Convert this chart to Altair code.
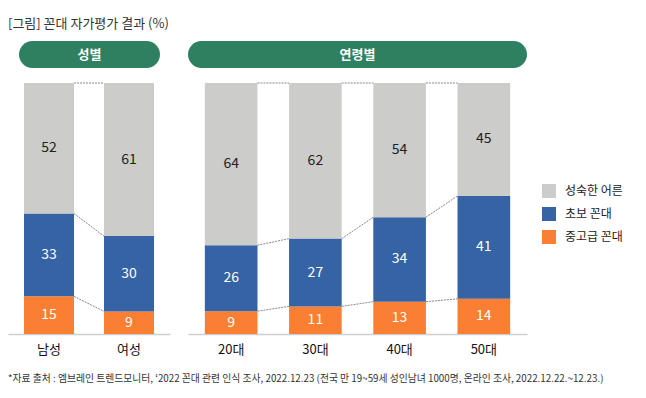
import altair as alt
import pandas as pd

# ---- data ----
gender_cats = ["남성", "여성"]
age_cats = ["20대", "30대", "40대", "50대"]
stack_series = ["중고급 꼰대", "초보 꼰대", "성숙한 어른"]  # bottom -> top
gender_senior = [15, 9]
gender_novice = [33, 30]
gender_mature = [52, 61]
age_senior = [9, 11, 13, 14]
age_novice = [26, 27, 34, 41]
age_mature = [64, 62, 54, 45]
panel_titles = ["성별", "연령별"]
legend_order = ["성숙한 어른", "초보 꼰대", "중고급 꼰대"]
palette = ["#cccccb", "#3663a3", "#fb7f33"]
title_text = "[그림] 꼰대 자가평가 결과 (%)"
footnote = "*자료 출처 : 엠브레인 트렌드모니터, ‘2022 꼰대 관련 인식 조사, 2022.12.23 (전국 만 19~59세 성인남녀 1000명, 온라인 조사, 2022.12.22.~12.23.)"

FONT = "Noto Sans CJK KR"


def build_frames(cats, senior, novice, mature):
    rows = []
    for i, c in enumerate(cats):
        vals = [senior[i], novice[i], mature[i]]
        total = sum(vals)
        start = 0.0
        for s, v in zip(stack_series, vals):
            share = v / total * 100
            rows.append({"cat": c, "series": s, "value": v, "start": start,
                         "end": start + share, "mid": start + share / 2})
            start += share
    df = pd.DataFrame(rows)
    links = []
    for i in range(len(cats) - 1):
        for s in stack_series:
            a = df[(df.cat == cats[i]) & (df.series == s)].iloc[0]
            b = df[(df.cat == cats[i + 1]) & (df.series == s)].iloc[0]
            links.append({"cat": cats[i], "cat2": cats[i + 1], "y1": a.end, "y2": b.end})
    return df, pd.DataFrame(links)


def panel(cats, senior, novice, mature, width, head, pill_x0, pill_x1, extra=None):
    df, links = build_frames(cats, senior, novice, mature)
    xscale = alt.Scale(domain=cats, paddingInner=0.375, paddingOuter=0.2)
    yscale = alt.Scale(domain=[0, 100])
    xaxis = alt.Axis(title=None, labelFontSize=13, labelColor="#111", labelFont=FONT,
                     ticks=False, domainColor="#cfcfcf", domainWidth=1.5, labelPadding=9,
                     labelAngle=0)
    bars = alt.Chart(df).mark_bar().encode(
        x=alt.X("cat:N", scale=xscale, axis=xaxis),
        y=alt.Y("start:Q", scale=yscale, axis=None),
        y2="end:Q",
        color=alt.Color("series:N", scale=alt.Scale(domain=legend_order, range=palette),
                        legend=alt.Legend(orient="none", legendX=534, legendY=101, title=None,
                                          symbolType="square", symbolSize=196,
                                          symbolStrokeWidth=0, labelFontSize=12,
                                          labelFont=FONT, labelColor="#222",
                                          labelOffset=9, rowPadding=9)),
    )
    rules = alt.Chart(links).mark_rule(color="#888", strokeDash=[2, 1], strokeWidth=1).encode(
        x=alt.X("cat:N", scale=xscale, axis=xaxis, bandPosition=1),
        x2=alt.X2("cat2:N", bandPosition=0),
        y=alt.Y("y1:Q", scale=yscale, axis=None),
        y2="y2:Q",
    )
    dark = alt.Chart(df).transform_filter(alt.datum.series == "성숙한 어른").mark_text(
        fontSize=14, font=FONT, color="#222").encode(
        x=alt.X("cat:N", scale=xscale, axis=xaxis),
        y=alt.Y("mid:Q", scale=yscale, axis=None),
        text="value:Q",
    )
    light = alt.Chart(df).transform_filter(alt.datum.series != "성숙한 어른").mark_text(
        fontSize=14, font=FONT, color="white").encode(
        x=alt.X("cat:N", scale=xscale, axis=xaxis),
        y=alt.Y("mid:Q", scale=yscale, axis=None),
        text="value:Q",
    )
    hdf = pd.DataFrame({"t": [head]})
    pill = alt.Chart(hdf).mark_rect(cornerRadius=13.5, color="#2e8060").encode(
        x=alt.value(pill_x0), x2=alt.value(pill_x1), y=alt.value(-42), y2=alt.value(-15))
    pill_t = alt.Chart(hdf).mark_text(color="white", fontSize=13, fontWeight="bold",
                                      font=FONT).encode(
        x=alt.value((pill_x0 + pill_x1) / 2), y=alt.value(-28.5), text="t:N")
    layers = [bars, rules, dark, light, pill, pill_t]
    if extra is not None:
        layers.append(extra)
    return alt.layer(*layers).properties(width=width, height=251)


fdf = pd.DataFrame({"t": [footnote]})
foot = alt.Chart(fdf).mark_text(align="left", baseline="middle", fontSize=9.8, font=FONT,
                                color="#333").encode(
    x=alt.value(0), y=alt.value(296), text="t:N")

left = panel(gender_cats, gender_senior, gender_novice, gender_mature, 162, panel_titles[0],
             11, 152, extra=foot)
right = panel(age_cats, age_senior, age_novice, age_mature, 339, panel_titles[1], 0, 339)

chart = alt.hconcat(left, right, spacing=18, bounds="flush").properties(
    title=alt.TitleParams(text=title_text, anchor="start", fontSize=13, fontWeight="normal",
                          color="#333", font=FONT, offset=10),
    padding={"left": 0, "top": 10, "right": 5, "bottom": 5},
).configure_view(stroke=None)

chart.save("out.html", embed_options={"renderer": "svg", "actions": False})
